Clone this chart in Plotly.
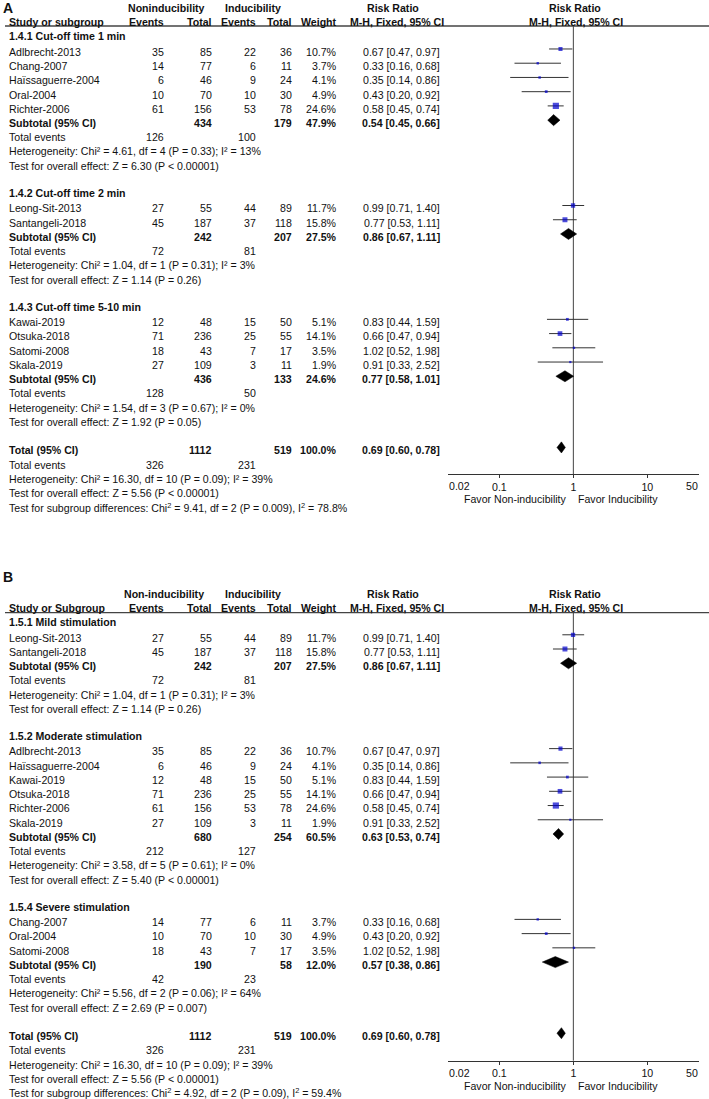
import math
import plotly.graph_objects as go

# ---------------- data ----------------
studies = ["Adlbrecht-2013", "Chang-2007", "Haïssaguerre-2004", "Oral-2004", "Richter-2006",
           "Leong-Sit-2013", "Santangeli-2018", "Kawai-2019", "Otsuka-2018", "Satomi-2008", "Skala-2019"]
ev_non = [35, 14, 6, 10, 61, 27, 45, 12, 71, 18, 27]
tot_non = [85, 77, 46, 70, 156, 55, 187, 48, 236, 43, 109]
ev_ind = [22, 6, 9, 10, 53, 44, 37, 15, 25, 7, 3]
tot_ind = [36, 11, 24, 30, 78, 89, 118, 50, 55, 17, 11]
weight = [10.7, 3.7, 4.1, 4.9, 24.6, 11.7, 15.8, 5.1, 14.1, 3.5, 1.9]
rr = [0.67, 0.33, 0.35, 0.43, 0.58, 0.99, 0.77, 0.83, 0.66, 1.02, 0.91]
rr_lo = [0.47, 0.16, 0.14, 0.20, 0.45, 0.71, 0.53, 0.44, 0.47, 0.52, 0.33]
rr_hi = [0.97, 0.68, 0.86, 0.92, 0.74, 1.40, 1.11, 1.59, 0.94, 1.98, 2.52]

# Panel A subgroups
A_labels = ["1.4.1 Cut-off time 1 min", "1.4.2 Cut-off time 2 min", "1.4.3 Cut-off time 5-10 min"]
A_members = [["Adlbrecht-2013", "Chang-2007", "Haïssaguerre-2004", "Oral-2004", "Richter-2006"],
             ["Leong-Sit-2013", "Santangeli-2018"],
             ["Kawai-2019", "Otsuka-2018", "Satomi-2008", "Skala-2019"]]
A_sub_tot_non = [434, 242, 436]
A_sub_tot_ind = [179, 207, 133]
A_sub_weight = [47.9, 27.5, 24.6]
A_sub_rr = [0.54, 0.86, 0.77]
A_sub_lo = [0.45, 0.67, 0.58]
A_sub_hi = [0.66, 1.11, 1.01]
A_sub_ev_non = [126, 72, 128]
A_sub_ev_ind = [100, 81, 50]
A_sub_het = ["Chi² = 4.61, df = 4 (P = 0.33); I² = 13%",
             "Chi² = 1.04, df = 1 (P = 0.31); I² = 3%",
             "Chi² = 1.54, df = 3 (P = 0.67); I² = 0%"]
A_sub_z = ["Z = 6.30 (P < 0.00001)", "Z = 1.14 (P = 0.26)", "Z = 1.92 (P = 0.05)"]
A_subgroup_diff = "Chi<sup>2</sup> = 9.41, df = 2 (P = 0.009), I<sup>2</sup> = 78.8%"

# Panel B subgroups
B_labels = ["1.5.1 Mild stimulation", "1.5.2 Moderate stimulation", "1.5.4 Severe stimulation"]
B_members = [["Leong-Sit-2013", "Santangeli-2018"],
             ["Adlbrecht-2013", "Haïssaguerre-2004", "Kawai-2019", "Otsuka-2018", "Richter-2006", "Skala-2019"],
             ["Chang-2007", "Oral-2004", "Satomi-2008"]]
B_sub_tot_non = [242, 680, 190]
B_sub_tot_ind = [207, 254, 58]
B_sub_weight = [27.5, 60.5, 12.0]
B_sub_rr = [0.86, 0.63, 0.57]
B_sub_lo = [0.67, 0.53, 0.38]
B_sub_hi = [1.11, 0.74, 0.86]
B_sub_ev_non = [72, 212, 42]
B_sub_ev_ind = [81, 127, 23]
B_sub_het = ["Chi² = 1.04, df = 1 (P = 0.31); I² = 3%",
             "Chi² = 3.58, df = 5 (P = 0.61); I² = 0%",
             "Chi² = 5.56, df = 2 (P = 0.06); I² = 64%"]
B_sub_z = ["Z = 1.14 (P = 0.26)", "Z = 5.40 (P < 0.00001)", "Z = 2.69 (P = 0.007)"]
B_subgroup_diff = "Chi<sup>2</sup> = 4.92, df = 2 (P = 0.09), I<sup>2</sup> = 59.4%"

# Overall
total_tot_non = 1112
total_tot_ind = 519
total_weight = 100.0
total_rr = 0.69
total_lo = 0.60
total_hi = 0.78
total_ev_non = 326
total_ev_ind = 231
total_het = "Chi² = 16.30, df = 10 (P = 0.09); I² = 39%"
total_z = "Z = 5.56 (P < 0.00001)"

tick_vals = [0.02, 0.1, 1, 10, 50]
tick_text = ["0.02", "0.1", "1", "10", "50"]
favor_left = "Favor Non-inducibility"
favor_right = "Favor Inducibility"

# ---------------- layout constants ----------------
W, H = 709, 1099
FONT = "Liberation Sans, Arial, sans-serif"
FS = 10.6
TXT = "#111111"
ROW = 14.23
MARK_OFF = -0.2
DH = 0.39
X0_PX, X1_PX = 447.7, 699.0
COLS = dict(name=9.3, ev_non=163.5, tot_non=212.0, ev_ind=255.5, tot_ind=291.5, weight=336.5, ci=439.5)

annotations = []
shapes = []


def ann(x_px, yref, row, text, anchor="left", bold=False, size=FS):
    annotations.append(dict(
        x=x_px / W, xref="paper", y=row, yref=yref,
        text=f"<b>{text}</b>" if bold else text,
        xanchor=anchor, yanchor="middle", showarrow=False,
        font=dict(family=FONT, size=size, color=TXT),
        borderpad=0, borderwidth=0))


def ci_text(a, b, c):
    return f"{a:.2f} [{b:.2f}, {c:.2f}]"


fig = go.Figure()


def panel(xname, yname, xov, xov2, row0_px, header_px, axis_px, top_row, bottom_row, letter, letter_row,
          non_label, non_center, study_header, labels, members, s_tn, s_ti, s_w, s_rr, s_lo, s_hi,
          s_en, s_ei, s_het, s_z, sub_diff):
    yref = yname
    to_px = lambda r: row0_px + r * ROW
    header_row = (header_px - row0_px) / ROW
    axis_row = (axis_px - row0_px) / ROW
    favor_row = (axis_px + 25 - row0_px) / ROW
    tick_row = (axis_px + 12 - row0_px) / ROW
    ax_suffix = xname[1:]
    ay_suffix = yname[1:]
    # headers
    ann(2.5, yref, letter_row, letter, bold=True, size=14)
    ann(non_center, yref, -2.1, non_label, anchor="center", bold=True)
    ann(253, yref, -2.1, "Inducibility", anchor="center", bold=True)
    ann(393, yref, -2.1, "Risk Ratio", anchor="center", bold=True)
    ann(574.5, yref, -2.1, "Risk Ratio", anchor="center", bold=True)
    ann(COLS["name"], yref, -1.08, study_header, bold=True)
    ann(COLS["ev_non"], yref, -1.08, "Events", anchor="right", bold=True)
    ann(COLS["tot_non"], yref, -1.08, "Total", anchor="right", bold=True)
    ann(COLS["ev_ind"], yref, -1.08, "Events", anchor="right", bold=True)
    ann(COLS["tot_ind"], yref, -1.08, "Total", anchor="right", bold=True)
    ann(COLS["weight"], yref, -1.08, "Weight", anchor="right", bold=True)
    ann(397, yref, -1.08, "M-H, Fixed, 95% CI", anchor="center", bold=True)
    ann(576, yref, -1.08, "M-H, Fixed, 95% CI", anchor="center", bold=True)
    shapes.append(dict(type="line", xref="paper", yref=yname, x0=5 / W, x1=1.0, y0=header_row, y1=header_row,
                       line=dict(color="#444444", width=1.3)))

    ci_x, ci_y, sq_x, sq_y, sq_s = [], [], [], [], []
    dx, dy = [], []

    def diamond(r, est, lo, hi):
        dx.extend([lo, est, hi, est, lo, None])
        dy.extend([r + MARK_OFF, r + MARK_OFF - DH, r + MARK_OFF, r + MARK_OFF + DH, r + MARK_OFF, None])

    r = 0
    for g, lab in enumerate(labels):
        ann(COLS["name"], yref, r - 0.08, lab, bold=True)
        r += 1
        for s in members[g]:
            i = studies.index(s)
            ann(COLS["name"], yref, r, s)
            ann(COLS["ev_non"], yref, r, str(ev_non[i]), anchor="right")
            ann(COLS["tot_non"], yref, r, str(tot_non[i]), anchor="right")
            ann(COLS["ev_ind"], yref, r, str(ev_ind[i]), anchor="right")
            ann(COLS["tot_ind"], yref, r, str(tot_ind[i]), anchor="right")
            ann(COLS["weight"], yref, r, f"{weight[i]:.1f}%", anchor="right")
            ann(COLS["ci"], yref, r, ci_text(rr[i], rr_lo[i], rr_hi[i]), anchor="right")
            ci_x.extend([rr_lo[i], rr_hi[i], None])
            ci_y.extend([r + MARK_OFF, r + MARK_OFF, None])
            sq_x.append(rr[i])
            sq_y.append(r + MARK_OFF)
            sq_s.append(max(2.2, 1.25 * math.sqrt(weight[i])))
            r += 1
        ann(COLS["name"], yref, r, "Subtotal (95% CI)", bold=True)
        ann(COLS["tot_non"], yref, r, str(s_tn[g]), anchor="right", bold=True)
        ann(COLS["tot_ind"], yref, r, str(s_ti[g]), anchor="right", bold=True)
        ann(COLS["weight"], yref, r, f"{s_w[g]:.1f}%", anchor="right", bold=True)
        ann(COLS["ci"], yref, r, ci_text(s_rr[g], s_lo[g], s_hi[g]), anchor="right", bold=True)
        diamond(r, s_rr[g], s_lo[g], s_hi[g])
        r += 1
        ann(COLS["name"], yref, r, "Total events")
        ann(COLS["ev_non"], yref, r, str(s_en[g]), anchor="right")
        ann(COLS["ev_ind"], yref, r, str(s_ei[g]), anchor="right")
        r += 1
        ann(COLS["name"], yref, r, "Heterogeneity: " + s_het[g])
        r += 1
        ann(COLS["name"], yref, r, "Test for overall effect: " + s_z[g])
        r += 2
    ann(COLS["name"], yref, r, "Total (95% CI)", bold=True)
    ann(COLS["tot_non"], yref, r, str(total_tot_non), anchor="right", bold=True)
    ann(COLS["tot_ind"], yref, r, str(total_tot_ind), anchor="right", bold=True)
    ann(COLS["weight"], yref, r, f"{total_weight:.1f}%", anchor="right", bold=True)
    ann(COLS["ci"], yref, r, ci_text(total_rr, total_lo, total_hi), anchor="right", bold=True)
    diamond(r, total_rr, total_lo, total_hi)
    r += 1
    ann(COLS["name"], yref, r, "Total events")
    ann(COLS["ev_non"], yref, r, str(total_ev_non), anchor="right")
    ann(COLS["ev_ind"], yref, r, str(total_ev_ind), anchor="right")
    r += 1
    ann(COLS["name"], yref, r, "Heterogeneity: " + total_het)
    r += 1
    ann(COLS["name"], yref, r, "Test for overall effect: " + total_z)
    r += 1
    ann(COLS["name"], yref, r, "Test for subgroup differences: " + sub_diff)

    # favour labels
    annotations.append(dict(x=0, xref=xname, y=favor_row, yref=yname, text=favor_left,
                            xanchor="right", yanchor="middle", xshift=-5, showarrow=False, borderpad=0,
                            font=dict(family=FONT, size=FS, color=TXT)))
    annotations.append(dict(x=0, xref=xname, y=favor_row, yref=yname, text=favor_right,
                            xanchor="left", yanchor="middle", xshift=4, showarrow=False, borderpad=0,
                            font=dict(family=FONT, size=FS, color=TXT)))
    # end tick labels (aligned inward, as in the original)
    annotations.append(dict(x=math.log10(tick_vals[0]), xref=xname, y=tick_row, yref=yname,
                            text=tick_text[0], xanchor="left", yanchor="middle", showarrow=False,
                            borderpad=0, font=dict(family=FONT, size=FS, color=TXT)))
    annotations.append(dict(x=math.log10(tick_vals[-1]), xref=xname, y=tick_row, yref=yname,
                            text=tick_text[-1], xanchor="right", yanchor="middle", showarrow=False,
                            borderpad=0, font=dict(family=FONT, size=FS, color=TXT)))

    # traces
    fig.add_trace(go.Scatter(x=[1, 1], y=[axis_row, header_row], mode="lines", xaxis=xname, yaxis=yname,
                             line=dict(color="#444444", width=1), hoverinfo="skip"))
    fig.add_trace(go.Scatter(x=ci_x, y=ci_y, mode="lines", xaxis=xname, yaxis=yname,
                             line=dict(color="#333333", width=1), hoverinfo="skip"))
    fig.add_trace(go.Scatter(x=sq_x, y=sq_y, mode="markers", xaxis=xname, yaxis=yname,
                             marker=dict(symbol="square", size=sq_s, color="#0000CC", line=dict(width=0))))
    fig.add_trace(go.Scatter(x=dx, y=dy, mode="lines", fill="toself", fillcolor="#000000",
                             xaxis=xname, yaxis=yname, line=dict(color="#000000", width=0.5),
                             hoverinfo="skip"))

    dom_y = [1 - to_px(bottom_row) / H, 1 - to_px(top_row) / H]
    xr = [math.log10(tick_vals[0]), math.log10(tick_vals[-1])]
    common_x = dict(type="log", range=xr, domain=[X0_PX / W, X1_PX / W], anchor="free",
                    position=1 - axis_px / H, showgrid=False, zeroline=False,
                    fixedrange=True, automargin=False)
    mid_vals = tick_vals[1:-1]
    mid_text = tick_text[1:-1]
    end_vals = [tick_vals[0], tick_vals[-1]]
    fig.update_layout(**{
        ("xaxis" if ax_suffix == "" else "xaxis" + ax_suffix): dict(
            **common_x, tickvals=mid_vals, ticktext=mid_text, ticks="outside", ticklen=3, tickwidth=1,
            tickcolor="#333333", showline=True, linecolor="#333333", linewidth=1,
            tickfont=dict(family=FONT, size=FS, color=TXT)),
        ("xaxis" + xov[1:]): dict(**common_x, overlaying=xname, tickvals=tick_vals, ticks="inside", ticklen=3,
                                 tickwidth=1, tickcolor="#333333", showticklabels=False, showline=False),
        ("xaxis" + xov2[1:]): dict(**common_x, overlaying=xname, tickvals=end_vals, ticks="outside", ticklen=3,
                                  tickwidth=1, tickcolor="#333333", showticklabels=False, showline=False),
        ("yaxis" if ay_suffix == "" else "yaxis" + ay_suffix): dict(
            domain=dom_y, range=[bottom_row, top_row], visible=False, showgrid=False, zeroline=False,
            fixedrange=True, automargin=False),
    })


panel("x", "y", "x3", "x5", 37.6, 26.0, 474.0, -2.6, 34.0, "A", -2.08, "Noninducibility", 166,
      "Study or subgroup",
      A_labels, A_members, A_sub_tot_non, A_sub_tot_ind, A_sub_weight, A_sub_rr, A_sub_lo, A_sub_hi,
      A_sub_ev_non, A_sub_ev_ind, A_sub_het, A_sub_z, A_subgroup_diff)
panel("x2", "y2", "x4", "x6", 623.4, 612.7, 1060.7, -3.6, 33.4, "B", -3.23, "Non-inducibility", 164,
      "Study or Subgroup",
      B_labels, B_members, B_sub_tot_non, B_sub_tot_ind, B_sub_weight, B_sub_rr, B_sub_lo, B_sub_hi,
      B_sub_ev_non, B_sub_ev_ind, B_sub_het, B_sub_z, B_subgroup_diff)

fig.update_layout(width=W, height=H, margin=dict(l=0, r=0, t=0, b=0, autoexpand=False), showlegend=False,
                  plot_bgcolor="white", paper_bgcolor="white",
                  annotations=annotations, shapes=shapes,
                  font=dict(family=FONT, size=FS, color=TXT))

fig.write_html("out.html", config={"displayModeBar": False},
               post_script="document.body.style.margin='0';document.body.style.overflow='hidden';")
